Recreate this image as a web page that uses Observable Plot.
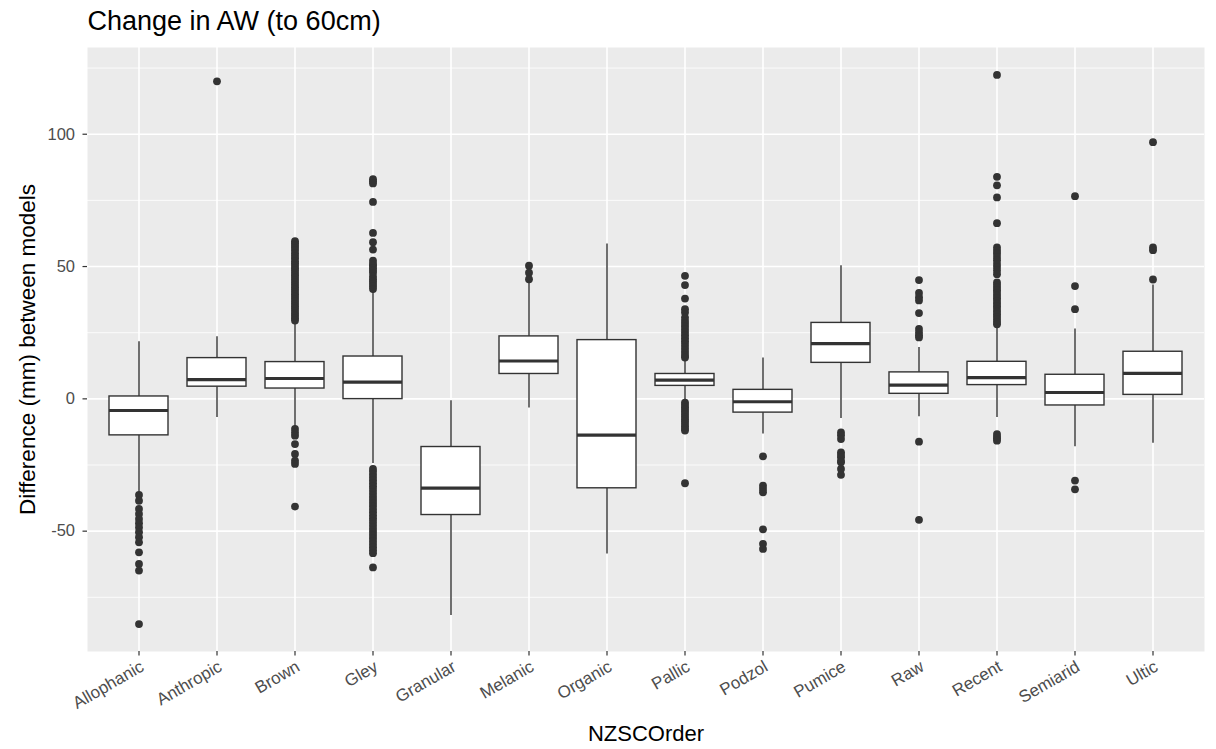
<!DOCTYPE html>
<html>
<head>
<meta charset="utf-8">
<script src="https://cdn.jsdelivr.net/npm/d3@7"></script>
<script src="https://cdn.jsdelivr.net/npm/@observablehq/plot@0.6"></script>
<style>
  html, body { margin: 0; padding: 0; background: white; }
  #chart { width: 1216px; height: 749px; }
</style>
</head>
<body>
<div id="chart"></div>
<script>
const chartTitle = "Change in AW (to 60cm)";
const xTitle = "NZSCOrder";
const yTitle = "Difference (mm) between models";

const categories = ["Allophanic","Anthropic","Brown","Gley","Granular","Melanic","Organic","Pallic","Podzol","Pumice","Raw","Recent","Semiarid","Ultic"];
const whiskerLow  = [-35.3, -7.0, -10.5, -24.4, -81.9, -3.5, -58.6, -0.7, -13.3, -7.4, -6.8, -7.0, -18.1, -16.8];
const q1          = [-13.8,  4.6,   3.9,  -0.1, -43.9,  9.4, -33.8,  4.9,  -5.2, 13.6,  1.9,  5.2,  -2.5,   1.5];
const median      = [ -4.4,  7.3,   7.7,   6.3, -33.7, 14.3, -13.7,  7.1,  -1.1, 20.9,  5.2,  8.0,   2.4,   9.6];
const q3          = [  0.9, 15.4,  13.9,  16.0, -18.2, 23.6,  22.2,  9.4,   3.4, 28.7, 10.0, 14.0,   9.1,  17.8];
const whiskerHigh = [ 21.6, 23.5,  28.9,  40.6,  -0.7, 44.0,  58.5, 15.0,  15.4, 50.3, 19.4, 27.0,  26.4,  43.0];

const outliers = [
  // Allophanic
  [-36.3, -38.5, -41.6, -43.5, -45.4, -47.0, -48.6, -50.4, -52.3, -54.2, -58.0, -62.4, -64.9, -85.1],
  // Anthropic
  [120.0],
  // Brown
  [59.6, 58.8, 57.9, 57.0, 56.1, 55.0, 54.0, 53.1, 52.0, 51.2, 50.3, 49.4, 48.5, 47.6, 46.7, 45.8, 44.9, 44.0,
   43.1, 42.2, 41.3, 40.4, 39.5, 38.6, 37.7, 36.8, 35.9, 35.0, 34.1, 33.2, 32.3, 31.4, 30.5, 29.6,
   -11.4, -12.7, -13.9, -17.1, -20.8, -23.4, -24.6, -40.7],
  // Gley
  [83.0, 82.2, 81.4, 74.4, 62.7, 59.2, 56.4, 52.2, 51.0, 50.3, 49.4, 48.4, 47.6, 46.2, 45.2, 44.3, 43.4, 42.5, 41.5,
   -26.5, -27.5, -28.6, -29.7, -30.8, -31.9, -33.0, -34.1, -35.2, -36.3, -37.4, -38.5, -39.6, -40.7, -41.8, -42.9,
   -44.0, -45.1, -46.2, -47.3, -48.4, -49.5, -50.6, -51.7, -52.8, -53.9, -55.0, -56.1, -57.2, -58.3, -63.7],
  // Granular
  [],
  // Melanic
  [50.3, 47.7, 45.2],
  // Organic
  [],
  // Pallic
  [46.5, 43.0, 37.9, 33.9, 32.6, 30.7, 29.5, 28.4, 27.3, 26.2, 25.1, 24.0, 22.9, 21.8, 20.7, 19.6, 18.5, 17.4, 16.3, 15.6,
   -1.4, -2.3, -3.2, -4.1, -5.0, -5.9, -6.8, -7.7, -8.6, -9.5, -10.4, -11.3, -12.0, -31.9],
  // Podzol
  [-21.7, -32.8, -34.1, -35.3, -49.3, -54.8, -56.7],
  // Pumice
  [-12.7, -13.8, -15.2, -20.2, -21.2, -22.1, -23.5, -24.0, -26.5, -28.7],
  // Raw
  [44.9, 40.0, 38.4, 37.2, 32.4, 26.4, 25.1, 24.0, 23.2, -16.2, -45.7],
  // Recent
  [122.4, 83.9, 80.7, 76.1, 66.4, 57.2, 56.0, 54.9, 53.6, 52.4, 51.0, 49.8, 48.5, 47.1, 44.0, 43.0, 42.0, 41.0,
   40.0, 39.0, 38.0, 37.0, 36.0, 35.0, 34.0, 33.0, 32.0, 31.0, 30.0, 29.0, 28.2, -13.3, -14.3, -15.0, -15.8],
  // Semiarid
  [76.6, 42.6, 33.9, -30.9, -34.2],
  // Ultic
  [97.0, 57.2, 56.2, 45.1]
];

const majorTicks = [-50, 0, 50, 100];
const majorTickLabels = ["-50", "0", "50", "100"];
const minorTicks = [-75, -25, 25, 75, 125];

// tables for the library
const boxes = categories.map((c, i) => ({cat: c, lo: whiskerLow[i], q1: q1[i], med: median[i], q3: q3[i], hi: whiskerHigh[i]}));
const points = categories.flatMap((c, i) => outliers[i].map(v => ({cat: c, v})));

const allVals = [...whiskerLow, ...whiskerHigh, ...points.map(d => d.v)];
const vMin = d3.min(allVals), vMax = d3.max(allVals);
const pad = (vMax - vMin) * 0.05;

const ink = "#333333";
const font = "'Liberation Sans', Arial, Helvetica, sans-serif";

const chart = Plot.plot({
  width: 1216,
  height: 749,
  marginTop: 47,
  marginLeft: 87,
  marginRight: 12,
  marginBottom: 98,
  style: {fontFamily: font, background: "white", overflow: "visible"},
  x: {type: "band", domain: categories, paddingInner: 0.25, paddingOuter: 0.225, label: null},
  y: {domain: [vMin - pad, vMax + pad], label: null},
  marks: [
    Plot.frame({fill: "#EBEBEB", stroke: "none"}),
    Plot.ruleY(minorTicks, {y: d => d, stroke: "white", strokeWidth: 0.8}),
    Plot.ruleY(majorTicks, {y: d => d, stroke: "white", strokeWidth: 1.6}),
    Plot.ruleX(categories, {x: d => d, stroke: "white", strokeWidth: 1.6}),
    Plot.ruleX(boxes, {x: "cat", y1: "lo", y2: "q1", stroke: ink, strokeWidth: 1.4}),
    Plot.ruleX(boxes, {x: "cat", y1: "q3", y2: "hi", stroke: ink, strokeWidth: 1.4}),
    Plot.barY(boxes, {x: "cat", y1: "q1", y2: "q3", fill: "white", stroke: ink, strokeWidth: 1.4}),
    Plot.tickY(boxes, {x: "cat", y: "med", stroke: ink, strokeWidth: 3.2}),
    Plot.dot(points, {x: "cat", y: "v", r: 3.9, fill: ink, stroke: "none"}),
    Plot.axisY({
      ticks: majorTicks,
      tickFormat: d => majorTickLabels[majorTicks.indexOf(d)],
      tickSize: 4.5, tickPadding: 8, fontSize: 16.5,
      fill: "#4D4D4D", stroke: ink, strokeWidth: 1.2, label: null
    }),
    Plot.axisX({
      tickSize: 4.5, tickFormat: () => "",
      stroke: ink, strokeWidth: 1.2, label: null
    }),
    Plot.text(categories, {
      x: d => d, text: d => d, frameAnchor: "bottom", dy: 8, rotate: -30,
      textAnchor: "end", lineAnchor: "top", fontSize: 17, fill: "#4D4D4D"
    }),
    Plot.text([chartTitle], {text: d => d, frameAnchor: "top-left", dy: -26, textAnchor: "start", lineAnchor: "middle", fontSize: 27, fill: "black"}),
    Plot.text([yTitle], {text: d => d, frameAnchor: "left", dx: -60, rotate: -90, textAnchor: "middle", lineAnchor: "middle", fontSize: 22.5, fill: "black"}),
    Plot.text([xTitle], {text: d => d, frameAnchor: "bottom", dy: 82, textAnchor: "middle", lineAnchor: "middle", fontSize: 22, fill: "black"})
  ]
});

document.getElementById("chart").appendChild(chart);
</script>
</body>
</html>
